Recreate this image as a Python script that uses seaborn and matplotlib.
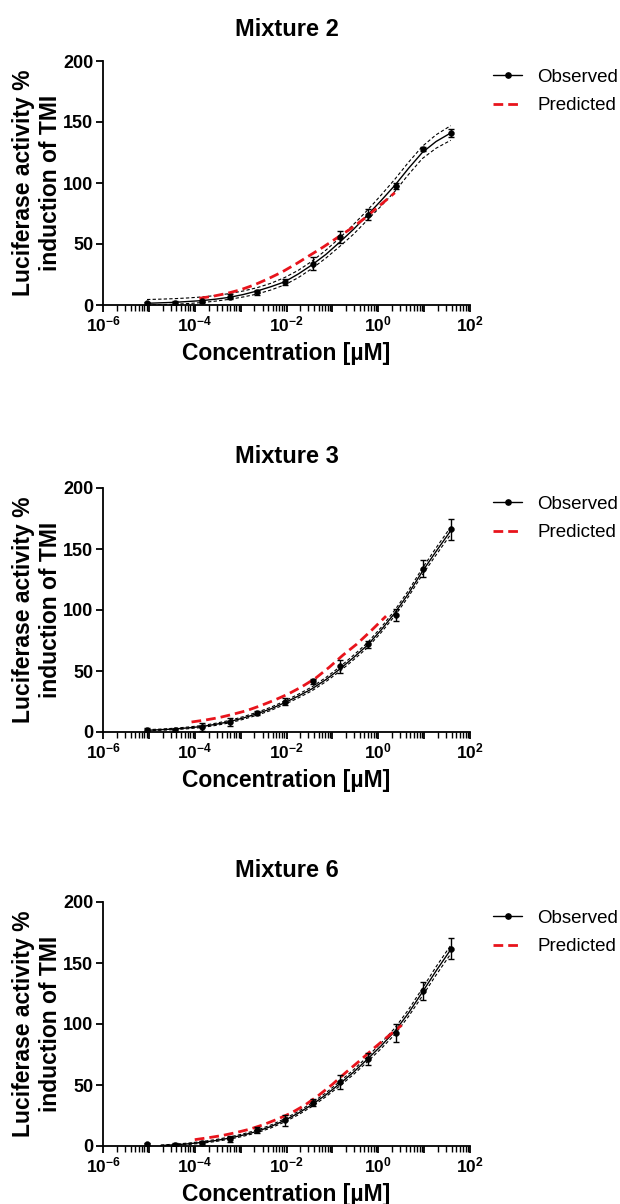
import numpy as np
import pandas as pd
import matplotlib
matplotlib.use("Agg")
import matplotlib.pyplot as plt
import seaborn as sns
from matplotlib.lines import Line2D
from matplotlib.ticker import FixedLocator, LogLocator, FuncFormatter, NullFormatter

# ---------------- data ----------------
titles = ["Mixture 2", "Mixture 3", "Mixture 6"]

# measured concentrations (µM), 4-fold dilution series
conc = [9.1e-6, 3.64e-5, 1.455e-4, 5.82e-4, 2.33e-3, 9.31e-3,
        0.0373, 0.149, 0.596, 2.38, 9.54, 38.15]

obs_m2 = [1.4, 2.0, 3.0, 6.8, 10.4, 18.6, 34.0, 56.0, 74.0, 97.8, 128.0, 141.0]
sd_m2 = [1.0, 1.0, 1.0, 2.0, 2.0, 2.5, 5.0, 5.0, 4.5, 2.5, 1.5, 3.0]

obs_m3 = [1.9, 1.4, 4.1, 8.2, 15.6, 25.0, 41.5, 53.8, 72.0, 95.6, 134.0, 166.0]
sd_m3 = [1.0, 1.0, 3.0, 3.0, 2.0, 3.0, 2.0, 5.5, 3.0, 5.0, 7.0, 8.5]

obs_m6 = [1.6, 1.1, 2.2, 6.0, 12.8, 21.0, 35.5, 52.5, 71.6, 92.6, 126.8, 161.7]
sd_m6 = [1.0, 1.0, 1.5, 2.5, 2.5, 4.5, 3.0, 6.0, 5.0, 7.5, 7.5, 8.5]

# fitted curves (log10 concentration grid)
fit_logx = [-5.04, -4.74, -4.44, -4.14, -3.84, -3.54, -3.24, -2.94, -2.64, -2.34,
            -2.04, -1.74, -1.44, -1.14, -0.84, -0.54, -0.24, 0.06, 0.36, 0.66,
            0.96, 1.26, 1.58]

fit_m2 = [1.4, 1.8, 2.2, 2.9, 3.6, 4.8, 6.3, 8.6, 11.5, 15.0,
          19.0, 25.5, 33.0, 41.5, 51.5, 62.0, 73.5, 85.5, 98.0, 112.0,
          125.0, 134.0, 141.0]
up_m2 = [4.5, 4.8, 5.2, 5.8, 6.6, 7.8, 9.4, 11.5, 14.2, 17.8,
         22.5, 28.5, 36.0, 45.0, 55.0, 66.0, 77.5, 90.0, 103.0, 117.0,
         130.0, 139.5, 147.0]
lo_m2 = [0.0, 0.3, 0.6, 1.2, 2.0, 3.2, 4.7, 6.6, 9.0, 12.3,
         16.5, 22.5, 30.0, 38.5, 48.0, 58.0, 69.5, 81.0, 93.0, 107.0,
         120.0, 128.5, 135.0]

fit_m3 = [1.4, 1.9, 2.5, 3.4, 4.5, 6.3, 8.5, 11.5, 15.0, 19.0,
          24.0, 29.5, 35.5, 43.0, 51.5, 61.0, 71.0, 83.5, 97.5, 113.5,
          131.5, 148.0, 165.0]
up_m3 = [1.9, 2.4, 3.1, 4.1, 5.3, 7.2, 9.5, 12.6, 16.2, 20.3,
         25.4, 31.0, 37.1, 44.7, 53.3, 62.9, 73.0, 85.6, 99.8, 116.0,
         134.2, 150.9, 168.0]
lo_m3 = [0.9, 1.4, 1.9, 2.7, 3.7, 5.4, 7.5, 10.4, 13.8, 17.7,
         22.6, 28.0, 33.9, 41.3, 49.7, 59.1, 69.0, 81.4, 95.2, 111.0,
         128.8, 145.1, 162.0]

fit_logx6 = [-4.74, -4.44, -4.14, -3.84, -3.54, -3.24, -2.94, -2.64, -2.34,
             -2.04, -1.74, -1.44, -1.14, -0.84, -0.54, -0.24, 0.06, 0.36, 0.66,
             0.96, 1.26, 1.58]
fit_m6 = [0.4, 1.0, 1.8, 3.0, 4.5, 6.5, 9.0, 12.0, 16.0,
          21.0, 27.0, 34.0, 42.0, 51.0, 60.5, 71.0, 82.0, 94.0, 109.0,
          126.0, 143.5, 161.0]
up_m6 = [0.8, 1.5, 2.4, 3.7, 5.3, 7.4, 10.0, 13.1, 17.2,
         22.3, 28.4, 35.5, 43.6, 52.8, 62.4, 73.1, 84.3, 96.6, 111.8,
         129.1, 146.9, 164.5]
lo_m6 = [0.1, 0.5, 1.2, 2.3, 3.7, 5.6, 8.0, 10.9, 14.8,
         19.7, 25.6, 32.5, 40.4, 49.2, 58.6, 68.9, 79.7, 91.4, 106.2,
         122.9, 140.1, 157.5]

pred_logx_m2 = [-3.9, -3.6, -3.3, -3.0, -2.7, -2.4, -2.1, -1.8, -1.5, -1.2,
                -0.9, -0.6, -0.3, 0.0, 0.36]
pred_m2 = [5.5, 7.2, 9.5, 12.5, 16.5, 21.5, 27.0, 33.5, 40.5, 47.5,
           55.0, 62.5, 71.0, 80.5, 92.0]

pred_logx_m3 = [-4.07, -3.77, -3.47, -3.17, -2.87, -2.57, -2.27, -1.97, -1.67,
                -1.37, -1.07, -0.77, -0.47, -0.17, 0.17]
pred_m3 = [8.2, 9.8, 11.8, 14.5, 17.5, 21.5, 26.0, 31.0, 37.0,
           44.0, 53.0, 63.0, 72.0, 82.5, 95.0]

pred_logx_m6 = [-4.0, -3.7, -3.4, -3.1, -2.8, -2.5, -2.2, -1.9, -1.6, -1.3,
                -1.0, -0.7, -0.4, -0.1, 0.2, 0.51]
pred_m6 = [5.2, 6.8, 8.6, 11.0, 13.8, 17.5, 22.0, 27.0, 33.5, 41.5,
           50.5, 60.5, 70.0, 80.0, 89.5, 99.0]

x_ticks_exp = [-6, -5, -4, -3, -2, -1, 0, 1, 2]
y_ticks = [0, 50, 100, 150, 200]
legend_labels = ["Observed", "Predicted"]
xlabel = "Concentration [µM]"
ylabel = "Luciferase activity %\ninduction of TMI"

panels = [
    (titles[0], obs_m2, sd_m2, fit_logx, fit_m2, up_m2, lo_m2, pred_logx_m2, pred_m2),
    (titles[1], obs_m3, sd_m3, fit_logx, fit_m3, up_m3, lo_m3, pred_logx_m3, pred_m3),
    (titles[2], obs_m6, sd_m6, fit_logx6, fit_m6, up_m6, lo_m6, pred_logx_m6, pred_m6),
]

# ---------------- style ----------------
sns.set_style("ticks")
plt.rcParams["font.family"] = ["Liberation Sans", "DejaVu Sans"]
plt.rcParams["font.weight"] = "bold"
plt.rcParams["mathtext.fontset"] = "custom"
plt.rcParams["mathtext.rm"] = "Liberation Sans:bold"
plt.rcParams["mathtext.bf"] = "Liberation Sans:bold"
plt.rcParams["mathtext.it"] = "Liberation Sans:bold"
plt.rcParams["axes.linewidth"] = 1.3
for key in ["text.color", "axes.labelcolor", "xtick.color", "ytick.color", "axes.edgecolor"]:
    plt.rcParams[key] = "black"

fig = plt.figure(figsize=(6.2, 12.04), dpi=100)
W, H = 620, 1204
ax_left, ax_right = 103, 470
tops = [61, 488, 902]
bottoms = [305, 732, 1146]


def xfmt(v, _):
    e = int(round(np.log10(v)))
    if e % 2 == 0:
        return r"$10^{%d}$" % e
    return ""


for (title, obs, sd, fx, fy, fu, fl, px, py), top, bot in zip(panels, tops, bottoms):
    ax = fig.add_axes([ax_left / W, 1 - bot / H, (ax_right - ax_left) / W, (bot - top) / H])
    ax.set_xscale("log")

    fxc = [10 ** v for v in fx]
    pxc = [10 ** v for v in px]

    sns.lineplot(x=fxc, y=fu, ax=ax, color="black", lw=0.8, linestyle=(0, (3, 2)),
                 estimator=None, sort=False)
    sns.lineplot(x=fxc, y=fl, ax=ax, color="black", lw=0.8, linestyle=(0, (3, 2)),
                 estimator=None, sort=False)
    sns.lineplot(x=fxc, y=fy, ax=ax, color="black", lw=1.0, estimator=None, sort=False)
    sns.lineplot(x=pxc, y=py, ax=ax, color="#e8141c", lw=2.0, linestyle=(0, (3.5, 1.8)),
                 estimator=None, sort=False, zorder=4)

    ax.errorbar(conc, obs, yerr=sd, fmt="none", ecolor="black", elinewidth=1.0,
                capsize=2.3, capthick=1.0, zorder=5)
    df = pd.DataFrame({"conc": conc, "resp": obs})
    sns.scatterplot(data=df, x="conc", y="resp", ax=ax, color="black", s=18,
                    edgecolor="black", linewidth=0.3, zorder=6, legend=False)

    ax.set_xlim(1e-6, 1e2)
    ax.set_ylim(0, 200)
    ax.xaxis.set_major_locator(FixedLocator([10.0 ** e for e in x_ticks_exp]))
    ax.xaxis.set_major_formatter(FuncFormatter(xfmt))
    ax.xaxis.set_minor_locator(LogLocator(base=10, subs=np.arange(2, 10), numticks=50))
    ax.xaxis.set_minor_formatter(NullFormatter())
    ax.set_yticks(y_ticks)

    ax.tick_params(axis="x", which="major", direction="out", length=5, width=1.3,
                   labelsize=12.5, pad=2)
    ax.tick_params(axis="y", which="major", direction="out", length=5, width=1.3,
                   labelsize=13, pad=2)
    ax.tick_params(axis="x", which="minor", direction="out", length=4, width=1.0)
    for lab in ax.get_yticklabels():
        lab.set_fontweight("bold")

    sns.despine(ax=ax)
    ax.set_title(title, fontsize=17, fontweight="bold", pad=18)
    ax.set_xlabel(xlabel, fontsize=16.5, fontweight="bold", labelpad=5)
    ax.set_ylabel(ylabel, fontsize=16.5, fontweight="bold", labelpad=1)

    handles = [
        Line2D([0], [0], color="black", lw=1.0, marker="o", markersize=3.8),
        Line2D([0], [0], color="#e8141c", lw=2.0, linestyle=(0, (3.5, 1.8))),
    ]
    ax.legend(handles, legend_labels, loc="upper left", bbox_to_anchor=(1.063, 0.968),
              frameon=False, prop={"size": 13.5, "weight": "normal"},
              handlelength=1.55, handletextpad=0.8, labelspacing=0.6,
              borderaxespad=0, borderpad=0)

fig.savefig("out.png", dpi=100)
